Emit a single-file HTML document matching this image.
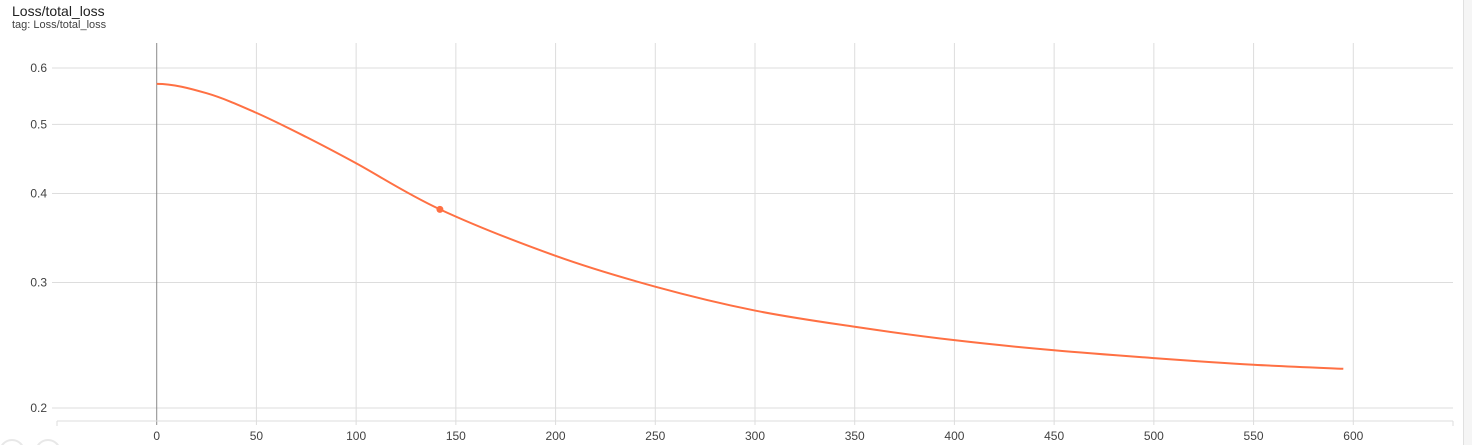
<!DOCTYPE html>
<html><head><meta charset="utf-8"><style>
body{margin:0;background:#fff;width:1472px;height:445px;overflow:hidden;font-family:"Liberation Sans",Roboto,sans-serif}
.t1{position:absolute;left:12px;top:3px;font-size:14px;color:#212121}
.t2{position:absolute;left:12px;top:19px;font-size:11px;color:#424242}
.edge{position:absolute;left:1463px;top:0;width:9px;height:445px;background:#f5f5f5;border-left:1px solid #e0e0e0}
svg{position:absolute;left:0;top:0}
</style></head><body>
<div class="t1">Loss/total_loss</div>
<div class="t2">tag: Loss/total_loss</div>
<div class="edge"></div>
<svg id="c" width="1472" height="445"></svg>
<script>
const steps=[0,25,50,75,100,142,200,250,300,350,400,450,500,550,595];
const losses=[0.570,0.553,0.519,0.480,0.441,0.380,0.327,0.296,0.274,0.260,0.249,0.241,0.235,0.230,0.227];
const xTicks=[0,50,100,150,200,250,300,350,400,450,500,550,600];
const yTicks=[0.2,0.3,0.4,0.5,0.6];
const markerStep=142, markerValue=0.380;
const L=57,R=1453,T=43,B=421;
const xMin=-50,xMax=650;
const X=v=>L+(v-xMin)/(xMax-xMin)*(R-L);
const Y=v=>408-Math.log(v/0.2)*309.5;
const svg=document.getElementById('c');const NS='http://www.w3.org/2000/svg';
function mk(t,a){const e=document.createElementNS(NS,t);for(const k in a)e.setAttribute(k,a[k]);svg.appendChild(e);return e;}
for(const v of yTicks){
 const g=mk('line',{x1:L,x2:R,y1:Y(v),y2:Y(v),stroke:'#ddd','stroke-width':1});
 
 
 const tk=mk('line',{x1:L-5,x2:L,y1:Y(v),y2:Y(v),stroke:'#ddd'});
 
 
 const t=mk('text',{x:L-10,y:Y(v)+4,'text-anchor':'end','font-size':12,fill:'#424242'});t.textContent=v.toFixed(1);
 
 
}
for(const v of xTicks){
 const g=mk('line',{x1:X(v),x2:X(v),y1:T,y2:B+4,stroke:v===0?'#888':'#ddd','stroke-width':1});
 
 
 const t=mk('text',{x:X(v),y:440,'text-anchor':'middle','font-size':12,fill:'#424242'});t.textContent=v;
 
 
}
const ax=mk('line',{x1:L,x2:R,y1:B,y2:B,stroke:'#ddd'});


for(const v of [xMin,xMax]){const e=mk('line',{x1:X(v),x2:X(v),y1:B,y2:B+5,stroke:'#ddd'});
 
 }
const pts=steps.map((s,i)=>[X(s),Y(losses[i])]);
let d='M'+pts[0][0]+','+pts[0][1];
for(let i=0;i<pts.length-1;i++){const p0=i===0?[2*pts[0][0]-pts[1][0],pts[1][1]]:pts[i-1],p1=pts[i],p2=pts[i+1],p3=pts[Math.min(pts.length-1,i+2)];
 d+=` C${p1[0]+(p2[0]-p0[0])/6},${p1[1]+(p2[1]-p0[1])/6} ${p2[0]-(p3[0]-p1[0])/6},${p2[1]-(p3[1]-p1[1])/6} ${p2[0]},${p2[1]}`;}
const line=mk('path',{d:d,fill:'none',stroke:'#ff7043','stroke-width':2});


const dot=mk('circle',{cx:X(markerStep),cy:Y(markerValue),r:3.5,fill:'#ff7043'});


for(const cx of [12,48]){const c=mk('circle',{cx:cx,cy:452,r:12,fill:'none',stroke:'#e8e8e8','stroke-width':2});
 
 }
</script>
</body></html>
